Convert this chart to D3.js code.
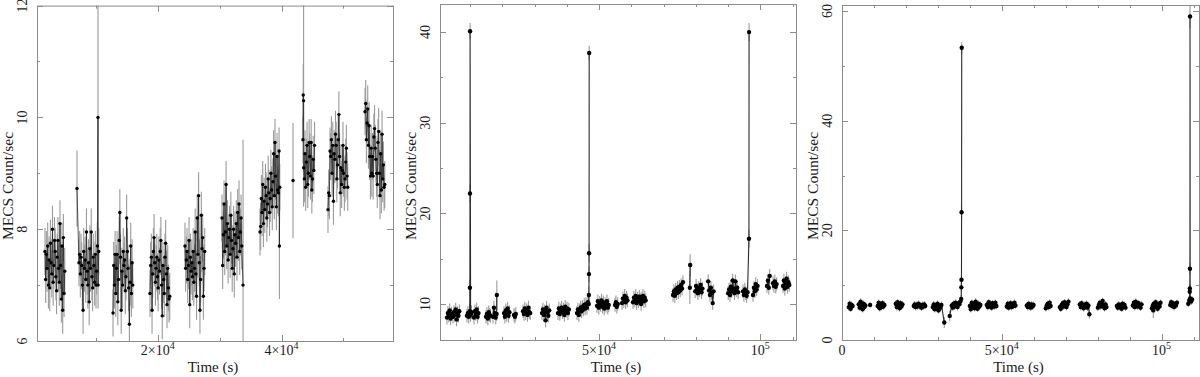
<!DOCTYPE html>
<html>
<head>
<meta charset="utf-8">
<style>
body{margin:0;background:#fff;}
svg text{font-family:"Liberation Serif","Times New Roman",serif;fill:#1a1a1a;}
</style>
</head>
<body>
<script src="https://d3js.org/d3.v7.min.js"></script>
<script>
// ---- panel 1 : segments (start time, fixed bin) + rates
var p1Starts=[1790,7280,12780,18750,24400,30380,36520,43460,47500,53480];
var p1Step=110;
var p1Err=0.42;
var p1Rates=[
 [7.6,7.1,7.55,7.3,7.7,7.0,7.45,6.95,7.75,7.4,7.2,8.0,7.05,7.35,7.8,7.6,7.15,6.9,7.5,7.8,7.3,7.05,8.1,7.35,6.75,7.7,6.55,7.85,6.85,7.25],
 [7.4,7.55,7.2,7.5,7.35,7.0,6.55,7.6,7.3,7.45,7.1,7.95,7.25,7.0,7.4,6.7,7.65,7.3,7.95,7.15,6.95,7.5,7.35,7.05,7.55,7.0,7.25,7.7,7.0,7.6],
 [6.5,7.35,7.0,7.55,6.85,7.3,7.55,6.7,7.1,7.8,8.3,7.5,6.55,7.25,7.0,7.6,7.35,7.45,6.9,7.15,8.2,7.6,7.3,6.95,6.3,7.05,7.7,6.85,7.4,7.0],
 [6.85,7.35,7.5,6.55,7.2,7.6,7.85,7.4,7.05,7.3,7.5,7.15,6.95,7.45,7.25,7.6,7.8,7.0,6.45,7.35,7.1,6.85,7.5,7.75,7.2,6.65,7.3,6.95,6.75,6.8],
 [7.7,7.3,7.45,7.6,7.1,7.35,7.8,6.65,7.5,7.25,7.4,7.15,7.6,7.05,7.3,7.95,7.2,6.8,8.2,7.55,8.6,7.4,6.55,7.1,8.25,7.65,7.85,6.8,7.3,7.6],
 [8.2,7.35,7.9,8.45,7.6,7.95,8.8,7.7,8.1,7.45,7.85,8.0,7.55,8.25,7.8,7.3,7.65,8.0,7.2,7.9,7.75,8.1,7.5,8.3,7.85,8.45,7.6,7.95,8.2,7.7],
 [7.95,8.05,8.55,8.3,8.8,8.1,8.5,8.35,8.75,8.6,8.2,8.45,8.9,8.65,8.3,8.55,9.0,8.7,8.4,8.85,9.35,8.6,9.55,8.95,8.4,9.3,8.7,8.65,9.4,8.75],
 [9.6,9.1,8.9,9.35,8.75,9.2,9.5,8.8,9.0,9.55,9.3,8.95,9.55,8.7,8.9,9.25,9.05,9.5],
 [8.35,8.65,8.6,9.4,9.3,9.6,9.0,9.5,8.5,9.35,9.25,9.7,9.5,8.9,9.15,9.6,10.05,9.3,8.65,9.1,8.8,9.05,9.5,9.0,8.75,8.9,9.2,9.45,8.95,8.75],
 [10.1,10.25,9.6,9.9,10.15,9.5,9.85,9.3,8.95,9.45,9.0,9.3,8.95,9.65,9.8,9.45,9.25,9.0,8.8,9.55,9.75,9.0,8.6,9.35,8.7,9.7,8.9,9.15,8.75,8.8]
];
// single points [time, rate, error]
var p1Extra=[[6960,8.73,0.68],[10350,10.0,3.0],[33780,7.0,2.6],[39650,7.7,0.95],[41850,8.87,1.03],[43500,10.4,0.55],[43560,10.3,1.9]];
var p1XTicks=[20000,40000];
var p1XLabels=["2×10^4","4×10^4"];
var p1XMinor=[10000,30000,50000];
var p1YTicks=[6,8,10,12];
var p1YMinor=[7,9,11];

// ---- panel 2
var p2Starts=[2850,4710,9050,11220,14950,17120,20530,23630,26420,32310,37270,43160,49360,54950,57120,60530,72930,79810,83840,90040,94640,97740,102080,103940,107040];
var p2Step=280;
var p2Err=0.75;
var p2Rates=[
 [8.5,9.0,8.7,9.3,8.4,8.9],
 [8.6,9.1,8.8,9.4,8.3,9.0,8.7,9.2],
 [8.7,9.0,8.6,9.2,8.8,9.1],
 [8.5,9.2,8.9,9.4,8.6,9.0],
 [8.6,8.9,8.4,9.1,8.8,8.7],
 [8.6,9.6,9.0,8.5,8.9],
 [9.0,8.6,9.3,8.8,9.5,8.7,9.1],
 [8.8,8.6,8.9],
 [9.2,8.9,9.5,9.0,9.3,8.8,9.6,9.1,9.0],
 [9.0,9.4,8.8,9.2,8.2,9.6,9.1,8.7,9.3],
 [9.0,9.5,8.9,9.3,9.6,9.1,9.4,8.8,9.7,9.2,9.5,9.0,9.4],
 [9.0,9.4,8.8,9.3,9.6,9.2,9.7,9.4,9.9,9.5,10.0,9.6,10.2,10.0],
 [9.8,10.3,9.6,10.1,9.9,10.4,9.7,10.2,9.5,10.0,9.8,10.3,9.6,9.9],
 [9.9,10.2,9.7,10.0],
 [10.1,10.6,10.3,10.9,10.2,10.7,10.4],
 [10.2,10.7,10.4,10.9,10.1,10.6,10.3,10.8,10.5,10.0,10.6,10.9,10.3,10.7,10.4],
 [11.0,11.4,10.9,11.6,11.2,11.8,11.3,11.9,11.5,12.1,11.7,12.4],
 [11.4,12.0,11.6,11.2,11.8,11.5,12.1,11.3,11.7],
 [12.5,11.5,11.0,11.8,11.2,10.1,11.4],
 [11.2,11.6,11.0,11.9,11.4,12.6,11.7,11.2,12.5,11.5,11.8,11.3],
 [11.4,11.0,11.6,11.2,10.9,11.3],
 [11.0,11.8,11.4,12.2,11.6,12.0],
 [12.0,12.6,11.8,13.1],
 [12.3,12.0,12.5,11.9,12.2],
 [12.0,12.6,11.7,12.3,12.8,11.9,12.4,12.1]
];
var p2Extra=[[9950,11.8,0.9],[9980,22.2,1.0],[10010,40.1,0.9],[18300,11.0,1.6],[46850,11.0,0.9],[46880,13.3,0.9],[46910,15.6,1.0],[46940,37.7,0.8],[78150,11.8,1.8],[78250,14.3,1.2],[96480,17.2,1.0],[96520,40.0,1.0]];
var p2XTicks=[50000,100000];
var p2XLabels=["5×10^4","10^5"];
var p2XMinor=[10000,20000,30000,40000,60000,70000,80000,90000,110000];
var p2YTicks=[10,20,30,40];
var p2YMinor=[15,25,35];

// ---- panel 3
var p3Starts=[2100,5230,11180,16810,22450,28400,34340,40000,45300,51570,57830,63770,68150,74400,80060,86000,91010,96960,102700,108340];
var p3Step=300;
var p3Err=0.6;
var p3Rates=[
 [6.0,6.6,5.7,6.4,6.2],
 [6.5,5.9,7.0,6.2,5.6,6.6,6.0,6.3],
 [6.2,6.8,5.8,6.5,6.0,6.7,6.1,6.4],
 [6.6,6.0,6.9,6.3,5.8,6.7,6.1,6.5],
 [6.2,6.5,6.0,6.4,6.1,6.6,6.2,6.3,5.9,6.4,6.1,6.5,6.2],
 [6.0,6.5,5.6,6.3,5.8,6.6,5.4,6.2,5.9,6.4],
 [6.3,5.9,6.6,6.1,6.8,6.4,6.0,6.7,6.5,7.0],
 [6.2,5.6,6.8,6.0,6.5,5.8,7.0,6.3,5.7,6.6,6.1,6.4],
 [6.4,6.0,6.9,6.2,6.6,5.9,6.7,6.3,6.1,6.8,6.2],
 [6.1,6.6,5.9,6.4,6.7,6.0,6.5,6.2,6.8,6.3],
 [6.3,6.0,6.6,6.2,5.9,6.5,6.1,6.4],
 [5.8,6.3,6.6,6.0,6.8,6.2],
 [6.0,5.7,6.4,6.7,6.1,6.9,6.3,6.0,6.5,7.0],
 [6.5,6.0,6.7,6.2,5.8,6.4,6.1,6.6,5.9,6.3],
 [5.9,6.4,6.8,6.1,6.6,7.1,6.2,5.8,6.5,6.0],
 [6.2,5.9,6.5,6.0,6.3,5.7,6.6,6.1,6.4,5.9],
 [6.3,6.8,6.0,7.0,6.4,6.1,6.7,6.2,5.9,6.5],
 [5.8,6.3,6.6,6.0,6.9,6.2,5.7,6.5,6.1,6.8],
 [6.4,6.9,6.2,6.7,6.0,6.5,6.3,6.8],
 [6.6,7.2,7.6,7.0,7.4]
];
var p3Extra=[[8800,6.4,0.5],[32000,3.2,1.0],[33700,4.4,1.0],[37300,7.5,0.7],[37340,9.6,0.8],[37380,11.0,0.8],[37420,23.3,1.0],[37460,53.3,1.0],[77400,4.7,0.8],[97400,5.4,1.4],[108800,8.8,0.8],[108830,9.4,0.8],[108860,13.0,1.0],[108890,59.0,2.2]];
var p3XTicks=[0,50000,100000];
var p3XLabels=["0","5×10^4","10^5"];
var p3XMinor=[10000,20000,30000,40000,60000,70000,80000,90000,110000];
var p3YTicks=[0,20,40,60];
var p3YMinor=[10,30,50];

var width=1200, height=377;
var svg=d3.select("body").append("svg")
		.attr("width",width)
		.attr("height",height);

function label(sel,s){
	var parts=s.split("^");
	sel.append("tspan").text(parts[0]);
	if(parts.length>1){
		sel.append("tspan").attr("dy",-6).attr("font-size","10px").text(parts[1]);
	}
}

function drawPanel(o){
	var x=d3.scaleLinear().domain(o.xDom).range([o.l,o.r]);
	var y=d3.scaleLinear().domain(o.yDom).range([o.b,o.t]);
	var g=svg.append("g");
	var cid="clip"+o.id;
	svg.append("clipPath").attr("id",cid).append("rect")
		.attr("x",o.l).attr("y",o.t).attr("width",o.r-o.l).attr("height",o.b-o.t);

	var pts=[];
	o.starts.forEach(function(s,i){
		o.rates[i].forEach(function(v,j){ pts.push({t:s+j*o.step,v:v,e:o.err}); });
	});
	o.extra.forEach(function(d){ pts.push({t:d[0],v:d[1],e:d[2]}); });
	pts.sort(function(a,b){return a.t-b.t;});
	// split into observation segments where the time gap is big
	var runs=[],cur=[];
	pts.forEach(function(p,i){
		if(i>0 && p.t-pts[i-1].t>o.gap){ runs.push(cur); cur=[]; }
		cur.push(p);
	});
	runs.push(cur);

	var plot=g.append("g").attr("clip-path","url(#"+cid+")");
	plot.selectAll(".eb").data(pts).enter().append("line")
		.attr("x1",function(d){return x(d.t);})
		.attr("x2",function(d){return x(d.t);})
		.attr("y1",function(d){return y(d.v-d.e);})
		.attr("y2",function(d){return y(d.v+d.e);})
		.attr("stroke","#9a9a9a").attr("stroke-width",1.1);
	var line=d3.line().x(function(d){return x(d.t);}).y(function(d){return y(d.v);});
	plot.selectAll(".run").data(runs).enter().append("path")
		.attr("d",line).attr("fill","none")
		.attr("stroke","#2a2a2a").attr("stroke-width",o.lw);
	plot.selectAll(".pt").data(pts).enter().append("circle")
		.attr("cx",function(d){return x(d.t);})
		.attr("cy",function(d){return y(d.v);})
		.attr("r",o.dot).attr("fill","#000");

	// frame
	g.append("rect").attr("x",o.l+0.5).attr("y",o.t+0.5)
		.attr("width",o.r-o.l).attr("height",o.b-o.t)
		.attr("fill","none").attr("stroke","#8c8c8c").attr("stroke-width",1);

	function xt(vals,len){
		vals.forEach(function(v){
			var px=Math.round(x(v))+0.5;
			g.append("line").attr("x1",px).attr("x2",px).attr("y1",o.b).attr("y2",o.b-len).attr("stroke","#8c8c8c");
			g.append("line").attr("x1",px).attr("x2",px).attr("y1",o.t).attr("y2",o.t+len).attr("stroke","#8c8c8c");
		});
	}
	function yt(vals,len){
		vals.forEach(function(v){
			var py=Math.round(y(v))+0.5;
			g.append("line").attr("x1",o.l).attr("x2",o.l+len).attr("y1",py).attr("y2",py).attr("stroke","#8c8c8c");
			g.append("line").attr("x1",o.r).attr("x2",o.r-len).attr("y1",py).attr("y2",py).attr("stroke","#8c8c8c");
		});
	}
	xt(o.xTicks,6); xt(o.xMinor,3);
	yt(o.yTicks,6); yt(o.yMinor,3);

	o.xTicks.forEach(function(v,i){
		var t=g.append("text").attr("x",x(v)).attr("y",355)
			.attr("text-anchor","middle").attr("font-size","14px");
		label(t,o.xLabels[i]);
	});
	o.yTicks.forEach(function(v){
		g.append("text").attr("transform","translate("+(o.l-10)+","+y(v)+") rotate(-90)")
			.attr("text-anchor","middle").attr("font-size","14px").text(v);
	});
	g.append("text").attr("x",(o.l+o.r)/2-2).attr("y",372)
		.attr("text-anchor","middle").attr("font-size","15px").text("Time (s)");
	g.append("text").attr("transform","translate("+(o.l-24)+",186) rotate(-90)")
		.attr("text-anchor","middle").attr("font-size","15.5px").text("MECS Count/sec");
}

drawPanel({id:1,l:37,r:393,t:5.6,b:341,xDom:[500,58000],yDom:[6,12],
	starts:p1Starts,step:p1Step,err:p1Err,rates:p1Rates,extra:p1Extra,gap:500,dot:1.7,lw:0.8,
	xTicks:p1XTicks,xLabels:p1XLabels,xMinor:p1XMinor,yTicks:p1YTicks,yMinor:p1YMinor});
drawPanel({id:2,l:440,r:796,t:4,b:340,xDom:[680,111070],yDom:[6.03,43.1],
	starts:p2Starts,step:p2Step,err:p2Err,rates:p2Rates,extra:p2Extra,gap:800,dot:2.2,lw:1.1,
	xTicks:p2XTicks,xLabels:p2XLabels,xMinor:p2XMinor,yTicks:p2YTicks,yMinor:p2YMinor});
drawPanel({id:3,l:842,r:1199,t:5,b:340,xDom:[0,111700],yDom:[0,61.1],
	starts:p3Starts,step:p3Step,err:p3Err,rates:p3Rates,extra:p3Extra,gap:900,dot:2.2,lw:1.1,
	xTicks:p3XTicks,xLabels:p3XLabels,xMinor:p3XMinor,yTicks:p3YTicks,yMinor:p3YMinor});
</script>
</body>
</html>
